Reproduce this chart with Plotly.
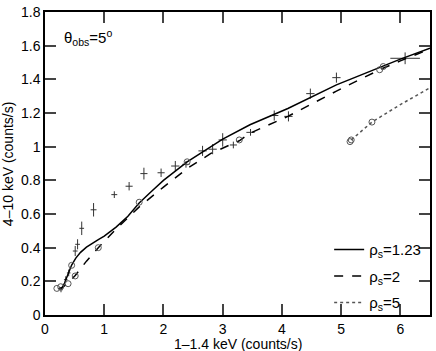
import plotly.graph_objects as go

# Observed data (crosses with error bars)
obs_x = [0.27, 0.35, 0.40, 0.51, 0.55, 0.62, 0.82, 1.17, 1.42, 1.67, 1.96, 2.20, 2.38, 2.66, 2.83, 3.00, 3.18, 3.47, 3.87, 4.11, 4.48, 4.92, 6.08]
obs_y = [0.15, 0.21, 0.25, 0.38, 0.42, 0.515, 0.625, 0.715, 0.765, 0.84, 0.845, 0.885, 0.895, 0.975, 0.985, 1.04, 1.01, 1.085, 1.185, 1.18, 1.315, 1.41, 1.525]
obs_ex = [0.03, 0.03, 0.03, 0.04, 0.04, 0.04, 0.05, 0.05, 0.06, 0.06, 0.06, 0.07, 0.06, 0.07, 0.07, 0.07, 0.06, 0.07, 0.07, 0.07, 0.07, 0.07, 0.25]
obs_ey = [0.015, 0.02, 0.02, 0.03, 0.03, 0.04, 0.04, 0.02, 0.025, 0.035, 0.025, 0.03, 0.02, 0.03, 0.03, 0.04, 0.02, 0.02, 0.03, 0.03, 0.03, 0.03, 0.035]

# Model curves
rho123_x = [0.28, 0.33, 0.38, 0.45, 0.52, 0.60, 0.70, 0.80, 0.90, 1.00, 1.20, 1.40, 1.59, 1.80, 2.00, 2.40, 3.00, 3.46, 4.10, 4.92, 5.50, 6.00, 6.50]
rho123_y = [0.155, 0.19, 0.235, 0.297, 0.338, 0.372, 0.403, 0.428, 0.448, 0.468, 0.522, 0.587, 0.665, 0.735, 0.80, 0.91, 1.045, 1.13, 1.227, 1.367, 1.45, 1.52, 1.585]

rho2_x = [0.22, 0.30, 0.39, 0.51, 0.70, 0.90, 1.20, 1.60, 2.00, 2.40, 2.80, 3.28, 3.46, 4.10, 4.92, 5.65, 6.00, 6.50]
rho2_y = [0.155, 0.165, 0.19, 0.235, 0.32, 0.40, 0.51, 0.645, 0.76, 0.87, 0.96, 1.035, 1.08, 1.18, 1.33, 1.457, 1.51, 1.58]

rho5_x = [5.17, 5.52, 6.00, 6.50]
rho5_y = [1.04, 1.146, 1.25, 1.35]

# Model sample points (open circles)
circ_x = [0.20, 0.265, 0.39, 0.45, 0.51, 0.90, 1.59, 2.40, 3.28, 5.15, 5.17, 5.52, 5.65, 5.71]
circ_y = [0.158, 0.168, 0.186, 0.295, 0.232, 0.40, 0.67, 0.91, 1.04, 1.03, 1.04, 1.146, 1.457, 1.476]

fig = go.Figure()

fig.add_trace(go.Scatter(
    x=obs_x, y=obs_y, mode="markers",
    marker=dict(size=1, color="rgba(0,0,0,0)"),
    error_x=dict(type="data", array=obs_ex, width=0, thickness=1, color="#333"),
    error_y=dict(type="data", array=obs_ey, width=0, thickness=1, color="#333"),
    showlegend=False, hoverinfo="skip"))

fig.add_trace(go.Scatter(x=rho123_x, y=rho123_y, mode="lines", line=dict(color="black", width=1.5),
                         name="ρ<sub>s</sub>=1.23", legendgroup="a"))
fig.add_trace(go.Scatter(x=rho2_x, y=rho2_y, mode="lines", line=dict(color="black", width=1.5, dash="dash"),
                         name="ρ<sub>s</sub>=2", legendgroup="b"))
fig.add_trace(go.Scatter(x=rho5_x, y=rho5_y, mode="lines", line=dict(color="#555", width=1.5, dash="dot"),
                         name="ρ<sub>s</sub>=5", legendgroup="c"))

fig.add_trace(go.Scatter(x=circ_x, y=circ_y, mode="markers",
                         marker=dict(symbol="circle-open", size=6, color="#555", line=dict(width=1)),
                         showlegend=False))

axis_common = dict(
    showgrid=False, zeroline=False, showline=True, linecolor="black", linewidth=1.5,
    mirror="ticks", ticks="inside", ticklen=11, tickwidth=1.5, tickcolor="#444", automargin=False,
    tickfont=dict(family="Liberation Sans, Arial, sans-serif", size=14, color="black"),
)

fig.update_layout(
    width=436, height=351,
    margin=dict(l=45, r=6, t=12, b=36),
    paper_bgcolor="white", plot_bgcolor="white",
    font=dict(family="Liberation Sans, Arial, sans-serif", color="black"),
    xaxis=dict(range=[0, 6.5], dtick=1, tick0=0, **axis_common),
    yaxis=dict(range=[0, 1.8], dtick=0.2, tick0=0, **axis_common),
    legend=dict(x=0.99, y=0.27, xanchor="right", yanchor="top", bgcolor="rgba(0,0,0,0)",
                font=dict(size=15), itemwidth=30, tracegroupgap=4, traceorder="grouped"),
    annotations=[
        dict(x=0.045, y=0.915, xref="paper", yref="paper", xanchor="left", yanchor="middle",
             text="θ<sub>obs</sub>=5<sup>o</sup>", showarrow=False, font=dict(size=15)),
        dict(x=0.5, y=-0.096, xref="paper", yref="paper", xanchor="center", yanchor="middle",
             text="1–1.4 keV (counts/s)", showarrow=False, font=dict(size=14)),
        dict(x=-0.097, y=0.5, xref="paper", yref="paper", xanchor="center", yanchor="middle",
             text="4–10 keV (counts/s)", textangle=-90, showarrow=False, font=dict(size=14)),
    ],
)

fig.write_html("out.html", config={"displayModeBar": False},
               post_script="document.body.style.margin='0';document.body.style.overflow='hidden';")
